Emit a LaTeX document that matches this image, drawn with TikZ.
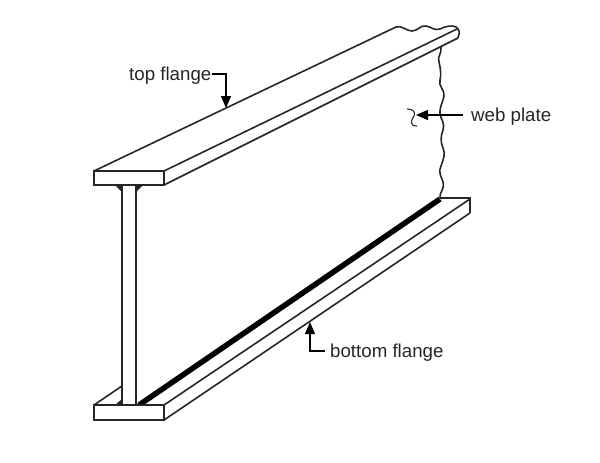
\documentclass[tikz,border=0pt]{standalone}
\usepackage{fontspec}
\setmainfont{Liberation Sans}
\usetikzlibrary{arrows.meta}
\tikzset{
  outline/.style={draw=black!85,line width=1.9pt,line join=miter},
  thin outline/.style={draw=black!85,line width=1.6pt},
  lbl/.style={inner sep=0pt,font=\fontsize{18.7pt}{20pt}\selectfont,text=black!85,anchor=west},
  leader/.style={draw=black,line width=1.2pt,-{Triangle[length=12pt,width=10pt]}},
}
\begin{document}
\begin{tikzpicture}[x=1pt,y=-1pt]
\useasboundingbox (0,0) rectangle (600,463);
% top flange
\draw[outline,fill=white] (94,171) rectangle (164,185);
\draw[thin outline] (94,171) -- (396,27);
\draw[thin outline] (164,171) -- (457,29);
\draw[thin outline] (164,185) -- (458,38);
\draw[thin outline] (396,27) .. controls (402,25) and (406,31) .. (412,31)
  .. controls (418,31) and (420,25) .. (426,26)
  .. controls (432,27) and (434,31) .. (440,29)
  .. controls (446,26) and (452,25) .. (456,27)
  .. controls (459,29) and (460,33) .. (459,34) -- (458,38);
% web edge
\draw[thin outline] (441,47) .. controls (442,54) and (437,56) .. (439,62)
  .. controls (441,70) and (441,76) .. (440,80)
  .. controls (438,86) and (445,90) .. (444,96)
  .. controls (443,102) and (439,108) .. (440,114)
  .. controls (441,120) and (445,122) .. (443,130)
  .. controls (441,136) and (440,140) .. (443,148)
  .. controls (446,154) and (443,160) .. (441,166)
  .. controls (438,172) and (441,176) .. (443,182)
  .. controls (445,190) and (439,192) .. (440,198);
% curl
\draw[draw=black!85,line width=1.1pt] (407,109) .. controls (413,109) and (416,112) .. (414,116)
  .. controls (411,120) and (409,126) .. (417,126);
% web
\draw[outline,fill=white] (122,185) rectangle (136,405);
\fill[black!85] (115,185) -- (122,185) -- (122,192) -- cycle;
\fill[black!85] (143,185) -- (136,185) -- (136,192) -- cycle;
% bottom flange
\draw[thin outline] (94,405) -- (122,386);
\draw[thin outline] (440,198) -- (470,198) -- (470,213);
\draw[thin outline] (164,405) -- (470,199);
\draw[thin outline] (164,420) -- (470,213);
\draw[black,line width=5.5pt] (139,405) -- (440,199);
\fill[black!85] (115,405) -- (122,405) -- (122,399) -- cycle;
\draw[outline,fill=white] (94,405) rectangle (164,420);
% labels
\node[lbl] (top) at (129,76) {top flange};
\node[lbl] (webl) at (471,117) {web plate};
\node[lbl] (bot) at (330,353) {bottom flange};
\coordinate (topS) at (top.east |- 0,74);
\coordinate (topT) at (226,108);
\coordinate (webS) at (463,115);
\coordinate (webT) at (416,115);
\coordinate (botS) at (325,351);
\coordinate (botT) at (310,322);
\draw[leader] (topS) -| (topT);
\draw[leader] (webS) -- (webT);
\draw[leader] (botS) -| (botT);
\end{tikzpicture}
\end{document}
